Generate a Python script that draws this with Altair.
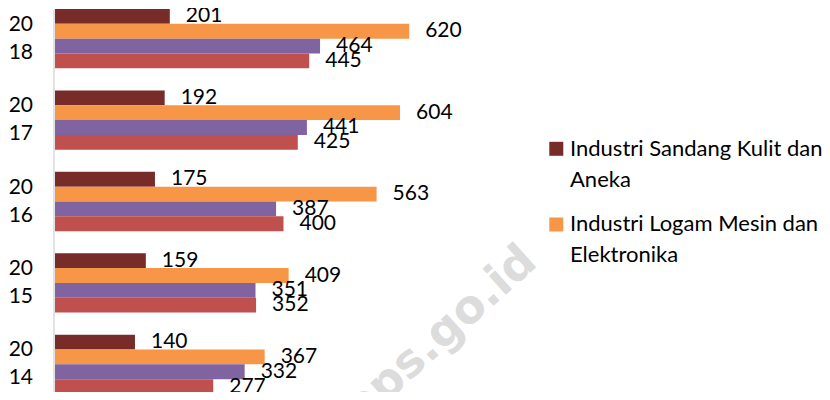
import altair as alt
import pandas as pd

years = ["2018", "2017", "2016", "2015", "2014"]
series = [
    "Industri Sandang Kulit dan Aneka",
    "Industri Logam Mesin dan Elektronika",
    "Kelompok Industri 3",
    "Kelompok Industri 4",
]
colors = ["#772C2A", "#F79646", "#8064A2", "#C0504D"]

sandang = [201, 192, 175, 159, 140]
logam = [620, 604, 563, 409, 367]
seri3 = [464, 441, 387, 351, 332]
seri4 = [445, 425, 400, 352, 277]

legend_lines = [
    ["Industri Sandang Kulit dan", "Aneka"],
    ["Industri Logam Mesin dan", "Elektronika"],
]

rows = []
for name, vals in zip(series, [sandang, logam, seri3, seri4]):
    for y, v in zip(years, vals):
        rows.append({"year": y, "series": name, "value": v})
df = pd.DataFrame(rows)

yenc = alt.Y(
    "year:N",
    sort=years,
    scale=alt.Scale(paddingInner=0.272, paddingOuter=0, range=[0, 385]),
    axis=alt.Axis(
        title=None, domainColor="#d9d9d9", domainWidth=1.5, ticks=False, tickSize=0,
        labelPadding=21, labelFont="Lato", labelFontSize=21, labelColor="black",
        labelExpr="[slice(datum.label,0,2), slice(datum.label,2)]",
        labelLineHeight=28, labelBaseline="middle", labelOffset=-14,
        grid=False, offset=1.5,
    ),
)
yoff = alt.YOffset("series:N", sort=series, scale=alt.Scale(paddingInner=0, paddingOuter=0))
xenc = alt.X("value:Q", scale=alt.Scale(domain=[0, 800]), axis=None)

base = alt.Chart(df).encode(y=yenc, yOffset=yoff, x=xenc)

bars = base.mark_bar().encode(
    color=alt.Color("series:N", sort=series,
                    scale=alt.Scale(domain=series, range=colors), legend=None)
)

labels = base.mark_text(
    align="left", baseline="middle", dx=16, font="Lato", fontSize=21, color="black"
).encode(text="value:Q")

one = pd.DataFrame({"k": [0]})

wm = alt.Chart(pd.DataFrame({"t": ["bps.go.id"]})).mark_text(
    font="DejaVu Sans", fontWeight="bold", fontSize=46, color="#dcdcdc", angle=318,
    align="center", baseline="middle",
).encode(x=alt.value(385), y=alt.value(326), text="t:N")

leg_layers = []
for i, (lines, col) in enumerate(zip(legend_lines, colors[:2])):
    sq_y = 139.8 + i * 75.7
    tx_y = 147 + i * 75
    leg_layers.append(
        alt.Chart(one).mark_square(size=196, color=col, opacity=1).encode(
            x=alt.value(501.3), y=alt.value(sq_y))
    )
    leg_layers.append(
        alt.Chart(one).mark_text(
            text=lines, align="left", baseline="alphabetic", font="Lato",
            fontSize=22, lineHeight=30.7, color="black",
        ).encode(x=alt.value(515), y=alt.value(tx_y))
    )

chart = alt.layer(wm, bars, labels, *leg_layers).properties(
    width=457, height=383, autosize="none",
    padding={"left": 47, "top": 1, "right": 310, "bottom": 0},
).configure_view(stroke=None)

chart.save("out.html", embed_options={"renderer": "svg", "actions": False})
